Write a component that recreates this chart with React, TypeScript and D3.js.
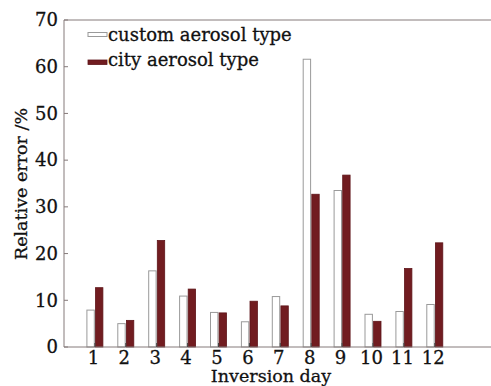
import React from "react";
import * as d3 from "d3";

const days = [1, 2, 3, 4, 5, 6, 7, 8, 9, 10, 11, 12];
const customErr = [7.9, 5.0, 16.3, 10.9, 7.4, 5.4, 10.8, 61.6, 33.5, 7.0, 7.6, 9.1];
const cityErr = [12.7, 5.7, 22.8, 12.4, 7.3, 9.8, 8.8, 32.7, 36.8, 5.5, 16.8, 22.3];
const yTicks = [0, 10, 20, 30, 40, 50, 60, 70];
const seriesNames = ["custom aerosol type", "city aerosol type"];

const W = 491, H = 386;
const left = 64, right = 496.6, top = 20, bottom = 347;
const font = "'DejaVu Serif', serif";
const axisColor = "#857a7a";
const red = "#711c20";
const txt = { fontFamily: font, fill: "#111", stroke: "#111", strokeWidth: 0.3 } as const;

export default function App() {
  const x = d3.scaleLinear().domain([0, 14]).range([left, right]);
  const y = d3.scaleLinear().domain([0, 70]).range([bottom, top]);
  const bw = 7.4;
  const off = 0.6;
  return (
    <svg width={W} height={H} style={{ position: "absolute", left: 0, top: 0, background: "#fff" }}>
      {days.map((d, i) => (
        <g key={d}>
          <rect x={x(d) - bw - off} y={y(customErr[i])} width={bw} height={y(0) - y(customErr[i])}
            fill="#fff" stroke="#9a9a9a" strokeWidth={1} />
          <rect x={x(d) + off} y={y(cityErr[i])} width={bw} height={y(0) - y(cityErr[i])}
            fill={red} stroke="#5e1519" strokeWidth={0.8} />
        </g>
      ))}
      <line x1={left} x2={left} y1={top} y2={bottom} stroke={axisColor} strokeWidth={1} />
      <line x1={left} x2={right} y1={bottom} y2={bottom} stroke={axisColor} strokeWidth={1} />
      <line x1={left} x2={right} y1={top} y2={top} stroke={axisColor} strokeWidth={1} />
      {yTicks.map((t) => (
        <g key={t}>
          <line x1={left} x2={left + 4} y1={y(t)} y2={y(t)} stroke={axisColor} />
          <text x={58} y={y(t)} dy="0.35em" textAnchor="end" fontSize={18} {...txt}>{t}</text>
        </g>
      ))}
      {days.map((d) => (
        <g key={d}>
          <line x1={x(d)} x2={x(d)} y1={bottom} y2={bottom - 4} stroke="#444" />
          <text x={x(d) - 1.5} y={364} textAnchor="middle" fontSize={18} {...txt}>{d}</text>
        </g>
      ))}
      <text x={271} y={382} textAnchor="middle" fontSize={17.5} {...txt}>Inversion day</text>
      <text transform={`translate(27,184) rotate(-90)`} textAnchor="middle" fontSize={17.5} {...txt}>Relative error /%</text>
      <rect x={88} y={32.5} width={19} height={4} fill="#fff" stroke="#9a9a9a" strokeWidth={1} />
      <text x={108} y={41} fontSize={18} {...txt}>{seriesNames[0]}</text>
      <rect x={88} y={60} width={19} height={4.5} fill={red} stroke="#5e1519" strokeWidth={0.8} />
      <text x={108} y={65.5} fontSize={18} {...txt}>{seriesNames[1]}</text>
    </svg>
  );
}
